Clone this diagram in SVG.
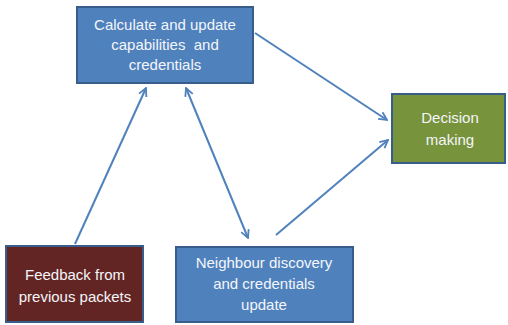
<svg xmlns="http://www.w3.org/2000/svg" width="508" height="325" viewBox="0 0 508 325">
  <style>
    .box { stroke: #385d8a; stroke-width: 2; }
    .blue { fill: #4f81bd; }
    .green { fill: #77933c; }
    .red { fill: #632523; }
    .lbl { font-family: "Liberation Sans", Arial, sans-serif; font-size: 15px; fill: #f4f6fa; text-anchor: middle; white-space: pre; }
    .conn { stroke: #4f81bd; stroke-width: 2; fill: none; }
  </style>
  <defs>
    <marker id="head" viewBox="0 0 10 10" refX="9" refY="5" markerWidth="5" markerHeight="5" orient="auto-start-reverse" markerUnits="strokeWidth">
      <path d="M1,1 L9,5 L1,9" fill="none" stroke="#4f81bd" stroke-width="1.8" stroke-linejoin="miter"/>
    </marker>
  </defs>
  <rect width="508" height="325" fill="#ffffff"/>

  <g id="connectors">
    <line class="conn" x1="75" y1="244" x2="146" y2="88" marker-end="url(#head)"/>
    <line class="conn" x1="248" y1="238" x2="186" y2="88" marker-start="url(#head)" marker-end="url(#head)"/>
    <line class="conn" x1="255" y1="33" x2="387" y2="120" marker-end="url(#head)"/>
    <line class="conn" x1="276" y1="235" x2="388" y2="140" marker-end="url(#head)"/>
  </g>

  <g id="calculate">
    <rect class="box blue" x="77" y="7" width="176" height="76"/>
    <text class="lbl" x="165" y="30">Calculate and update</text>
    <text class="lbl" x="165" y="50" xml:space="preserve">capabilities  and</text>
    <text class="lbl" x="165" y="70">credentials</text>
  </g>

  <g id="decision">
    <rect class="box green" x="392" y="94" width="113" height="69"/>
    <text class="lbl" x="450" y="123">Decision</text>
    <text class="lbl" x="450" y="145">making</text>
  </g>

  <g id="feedback">
    <rect class="box red" x="6" y="246" width="137" height="76"/>
    <text class="lbl" x="75" y="280">Feedback from</text>
    <text class="lbl" x="75" y="302">previous packets</text>
  </g>

  <g id="neighbour">
    <rect class="box blue" x="176" y="247" width="177" height="75"/>
    <text class="lbl" x="264" y="268">Neighbour discovery</text>
    <text class="lbl" x="264" y="289">and credentials</text>
    <text class="lbl" x="264" y="310">update</text>
  </g>
</svg>
